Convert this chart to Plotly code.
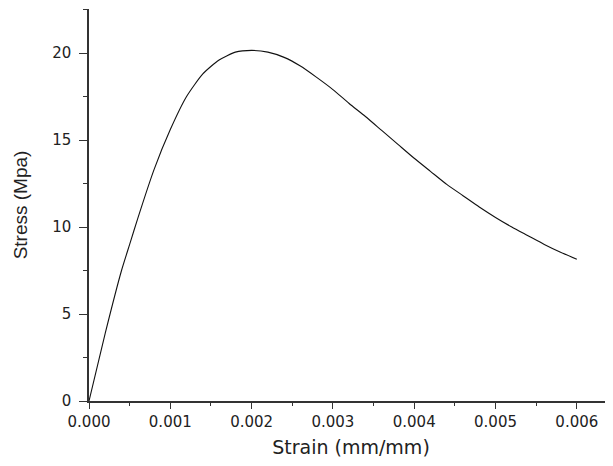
import plotly.graph_objects as go

strain = [0, 0.0002, 0.0004, 0.0005, 0.0006, 0.0008, 0.001, 0.0012, 0.0014, 0.0016,
          0.0018, 0.002, 0.0022, 0.0024, 0.0026, 0.0028, 0.003, 0.0032, 0.0034, 0.0036,
          0.0038, 0.004, 0.0042, 0.0044, 0.0046, 0.0048, 0.005, 0.0052, 0.0054, 0.0056,
          0.0058, 0.006]
stress = [0, 3.9, 7.5, 9.0, 10.5, 13.3, 15.6, 17.5, 18.8, 19.6,
          20.05, 20.15, 20.05, 19.75, 19.25, 18.6, 17.9, 17.1, 16.35, 15.55,
          14.75, 13.95, 13.2, 12.45, 11.8, 11.15, 10.55, 10.0, 9.5, 9.0,
          8.55, 8.15]

x_ticks = [0, 0.001, 0.002, 0.003, 0.004, 0.005, 0.006]
x_labels = ["0.000", "0.001", "0.002", "0.003", "0.004", "0.005", "0.006"]
y_ticks = [0, 5, 10, 15, 20]

fig = go.Figure()
fig.add_trace(go.Scatter(x=strain, y=stress, mode="lines", line_shape="spline",
                         line=dict(color="#111111", width=1.1, smoothing=0.6), showlegend=False))

wide = "DejaVu Sans, sans-serif"
narrow = "Liberation Sans, Arial, sans-serif"
# the page body has an 8px margin, so the figure is 8px smaller and offset
fig.update_layout(
    width=605, height=458,
    margin=dict(l=81, r=0, t=1, b=65),
    paper_bgcolor="white", plot_bgcolor="white",
    font=dict(family=wide, color="#222222"),
)
fig.update_xaxes(
    range=[0, 0.006445], tickvals=x_ticks, ticktext=x_labels, automargin=False,
    showgrid=False, zeroline=False, showline=True, linecolor="#333333", linewidth=1.5,
    ticks="outside", ticklen=6, tickwidth=1.3, tickcolor="#333333",
    tickfont=dict(size=15, family=wide),
    minor=dict(dtick=0.0005, ticks="outside", ticklen=3, tickwidth=1.3, tickcolor="#333333", showgrid=False),
    title=dict(text="Strain (mm/mm)", font=dict(size=19, family=wide), standoff=11),
)
fig.update_yaxes(
    range=[0, 22.53], tickvals=y_ticks, automargin=False,
    showgrid=False, zeroline=False, showline=True, linecolor="#333333", linewidth=1.5,
    ticks="outside", ticklen=8, tickwidth=1.3, tickcolor="#333333", ticklabelstandoff=5,
    tickfont=dict(size=15, family=wide),
    minor=dict(dtick=2.5, ticks="outside", ticklen=4, tickwidth=1.3, tickcolor="#333333", showgrid=False),
    title=dict(text="Stress (Mpa)", font=dict(size=19, family=narrow), standoff=20),
)

fig.write_html("out.html")
